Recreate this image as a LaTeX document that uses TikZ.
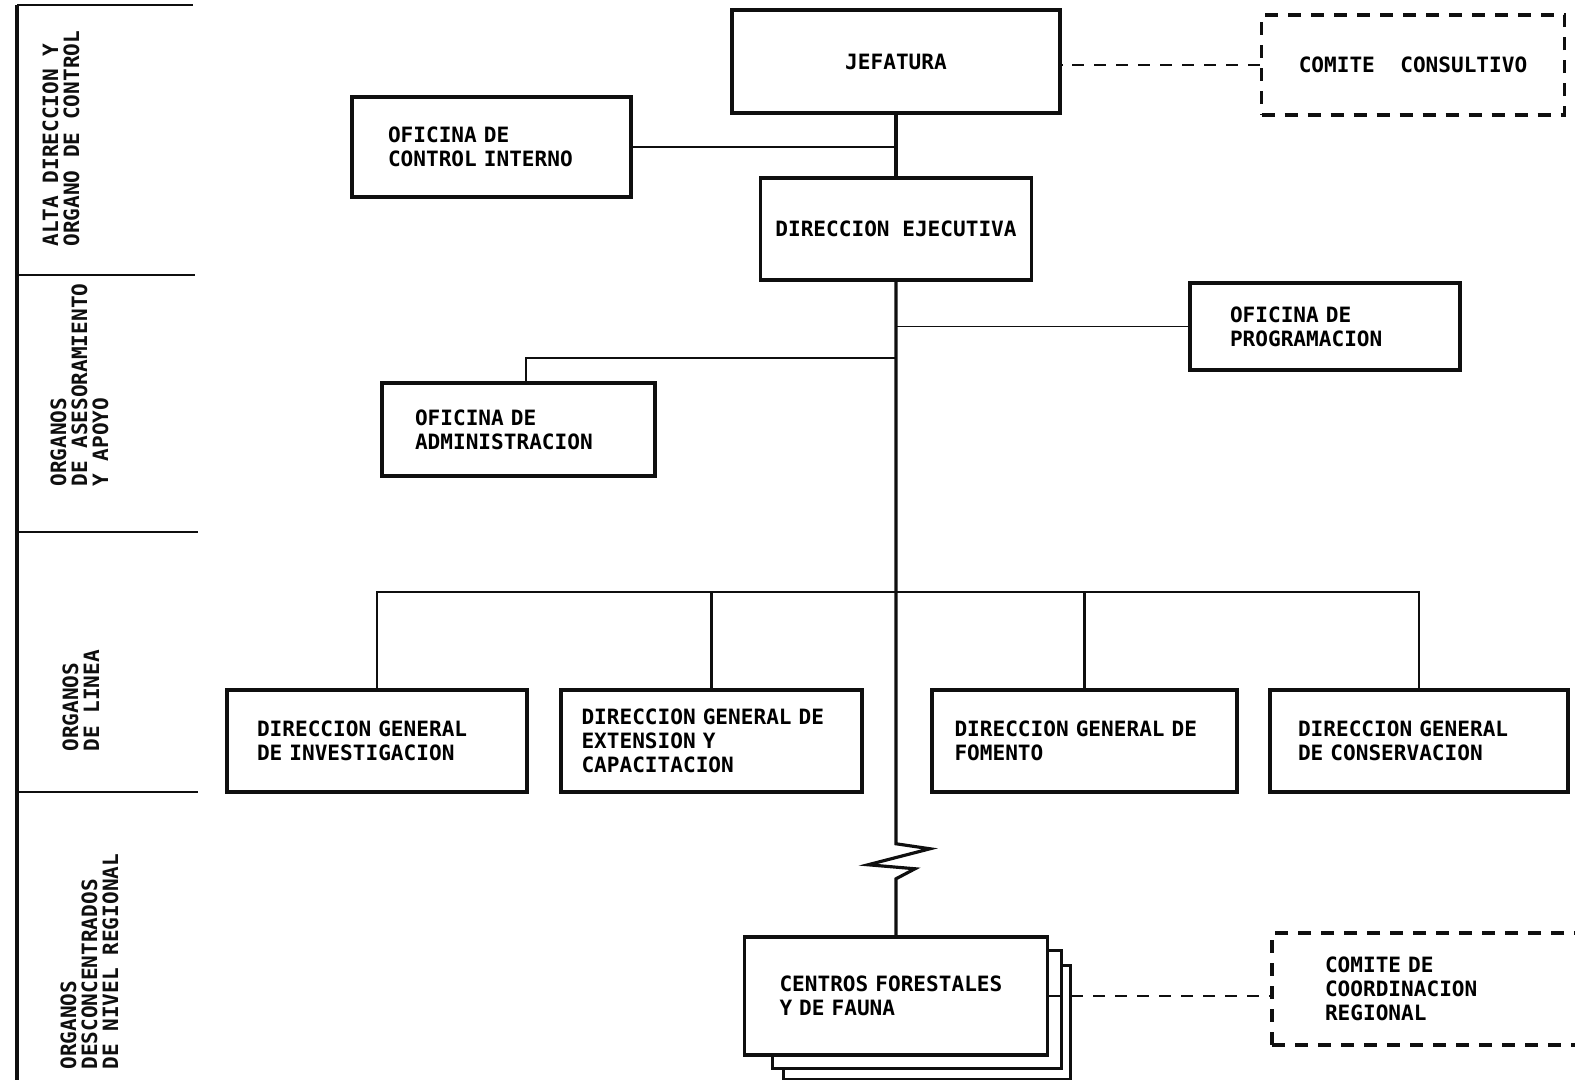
\documentclass[tikz,border=0pt]{standalone}
\usepackage{fontspec}
\setmonofont{DejaVu Sans Mono}
\usepackage{tikz}
\usetikzlibrary{positioning}
\definecolor{ink}{RGB}{15,15,15}
\newcommand\boxfont{\ttfamily\bfseries\fontsize{12}{13.5}\selectfont}
\newcommand\bandfont{\ttfamily\bfseries\fontsize{12}{12}\selectfont}
\tikzset{
  unitbox/.style={rectangle, draw=ink, fill=white, line width=2pt,
    font=\boxfont, align=left},
  headbox/.style={rectangle, draw=ink, fill=white, line width=2pt,
    font=\boxfont, align=center},
  advbox/.style={rectangle, draw=ink, line width=1.8pt,
    dash pattern=on 2.6mm off 2mm, font=\boxfont, align=left},
  bandlabel/.style={rotate=90, anchor=north west, inner sep=0pt,
    align=left, font=\bandfont, text=ink},
  link/.style={line width=1.1pt, color=ink},
  busline/.style={line width=1.5pt, color=ink},
  trunk/.style={line width=1.8pt, color=ink},
  advlink/.style={line width=1.1pt, color=ink, dash pattern=on 2.4mm off 2mm},
  bandline/.style={line width=1pt, color=ink}
}

\begin{document}
\begin{tikzpicture}[x=0.2mm, y=-0.2mm]
  \useasboundingbox (0,0) rectangle (1575,1079);
  % Levels on the left
  \draw[line width=2.8pt, color=ink] (17,5) -- (17,1085);
  \draw[bandline] (17,5) -- (193,5);
  \draw[bandline] (17,275) -- (195,275);
  \draw[bandline] (17,532) -- (198,532);
  \draw[bandline] (17,792) -- (198,792);
  \node[bandlabel] (lvlalta) at (42,247) {ALTA DIRECCION Y\\ORGANO DE CONTROL};
  \node[bandlabel] (lvlases) at (50,487) {ORGANOS\\DE ASESORAMIENTO\\Y APOYO};
  \node[bandlabel] (lvllinea) at (62,752) {ORGANOS\\DE LINEA};
  \node[bandlabel] (lvlreg) at (60,1070) {ORGANOS\\DESCONCENTRADOS\\DE NIVEL REGIONAL};
  % Alta direccion
  \node[headbox, minimum width=65.6mm, minimum height=20.6mm] (jef) at (896,61.5) {JEFATURA};
  \node[advbox, align=center, minimum width=60.6mm, minimum height=20mm] (cc) at (1413,65) {COMITE\ \ CONSULTIVO};
  \node[unitbox, text width=41.4mm, inner xsep=7.2mm, minimum height=20mm] (oci) at (491.5,147) {OFICINA DE\\CONTROL INTERNO};
  \node[headbox, minimum width=54.2mm, minimum height=20.4mm] (dej) at (896,229) {DIRECCION EJECUTIVA};
  % Asesoramiento y apoyo
  \node[unitbox, text width=38mm, inner xsep=8mm, minimum height=17.4mm] (ofp) at (1325,326.5) {OFICINA DE\\PROGRAMACION};
  \node[unitbox, text width=41.4mm, inner xsep=6.6mm, minimum height=18.6mm] (ofa) at (518.5,429.5) {OFICINA DE\\ADMINISTRACION};
  % Organos de linea
  \node[unitbox, text width=48mm, inner xsep=6mm, minimum height=20.4mm] (dgi) at (377,741) {DIRECCION GENERAL\\DE INVESTIGACION};
  \node[unitbox, text width=52mm, inner xsep=4.1mm, minimum height=20.4mm] (dge) at (711.5,741) {DIRECCION GENERAL DE\\EXTENSION Y\\CAPACITACION};
  \node[unitbox, text width=52mm, inner xsep=4.5mm, minimum height=20.4mm] (dgf) at (1084.5,741) {DIRECCION GENERAL DE\\FOMENTO};
  \node[unitbox, text width=48.4mm, inner xsep=5.6mm, minimum height=20.4mm] (dgc) at (1419,741) {DIRECCION GENERAL\\DE CONSERVACION};
  % Nivel regional
  \node[unitbox, text width=46.6mm, inner xsep=7mm, minimum height=23.6mm] (cfa) at (896,996) {CENTROS FORESTALES\\Y DE FAUNA};
  \draw[link, line width=1.8pt] ([xshift=8.2mm,yshift=-2.4mm]cfa.south west) |- ([xshift=4.2mm,yshift=-4.6mm]cfa.south east) |- ([xshift=2.4mm,yshift=-6mm]cfa.north east);
  \draw[link, line width=1.8pt] ([xshift=6mm]cfa.south west) |- ([xshift=2.4mm,yshift=-2.4mm]cfa.south east) |- ([yshift=-3mm]cfa.north east);
  \node[advbox, text width=42.8mm, inner xsep=10.6mm, minimum height=22.4mm] (ccr) at (1432,989) {COMITE DE\\COORDINACION\\REGIONAL};
  % Connections
  \coordinate (asesor) at (896,358);
  \coordinate (bus) at (896,592);
  \draw[trunk] (jef) -- (dej);
  \draw[link] (oci.east) -- (oci.east -| jef.south);
  \draw[advlink] (cc.west) -- (cc.west -| jef.east);
  \draw[trunk] (dej.south) -- ++(0,562) -- ++(34,5) -- ++(-62,16) -- ++(47,4) -- ++(-19,10) -- (cfa.north);
  \draw[link] (ofp.west) -- (ofp.west -| dej.south);
  \draw[link] ([xshift=1.5mm]ofa.north) |- (asesor);
  \draw[busline] (dgi.north) |- (bus) -| (dgc.north);
  \draw[busline] (dge.north) -- (dge.north |- bus);
  \draw[busline] (dgf.north) -- (dgf.north |- bus);
  \draw[advlink] (cfa.east) -- (cfa.east -| ccr.west);
\end{tikzpicture}
\end{document}
